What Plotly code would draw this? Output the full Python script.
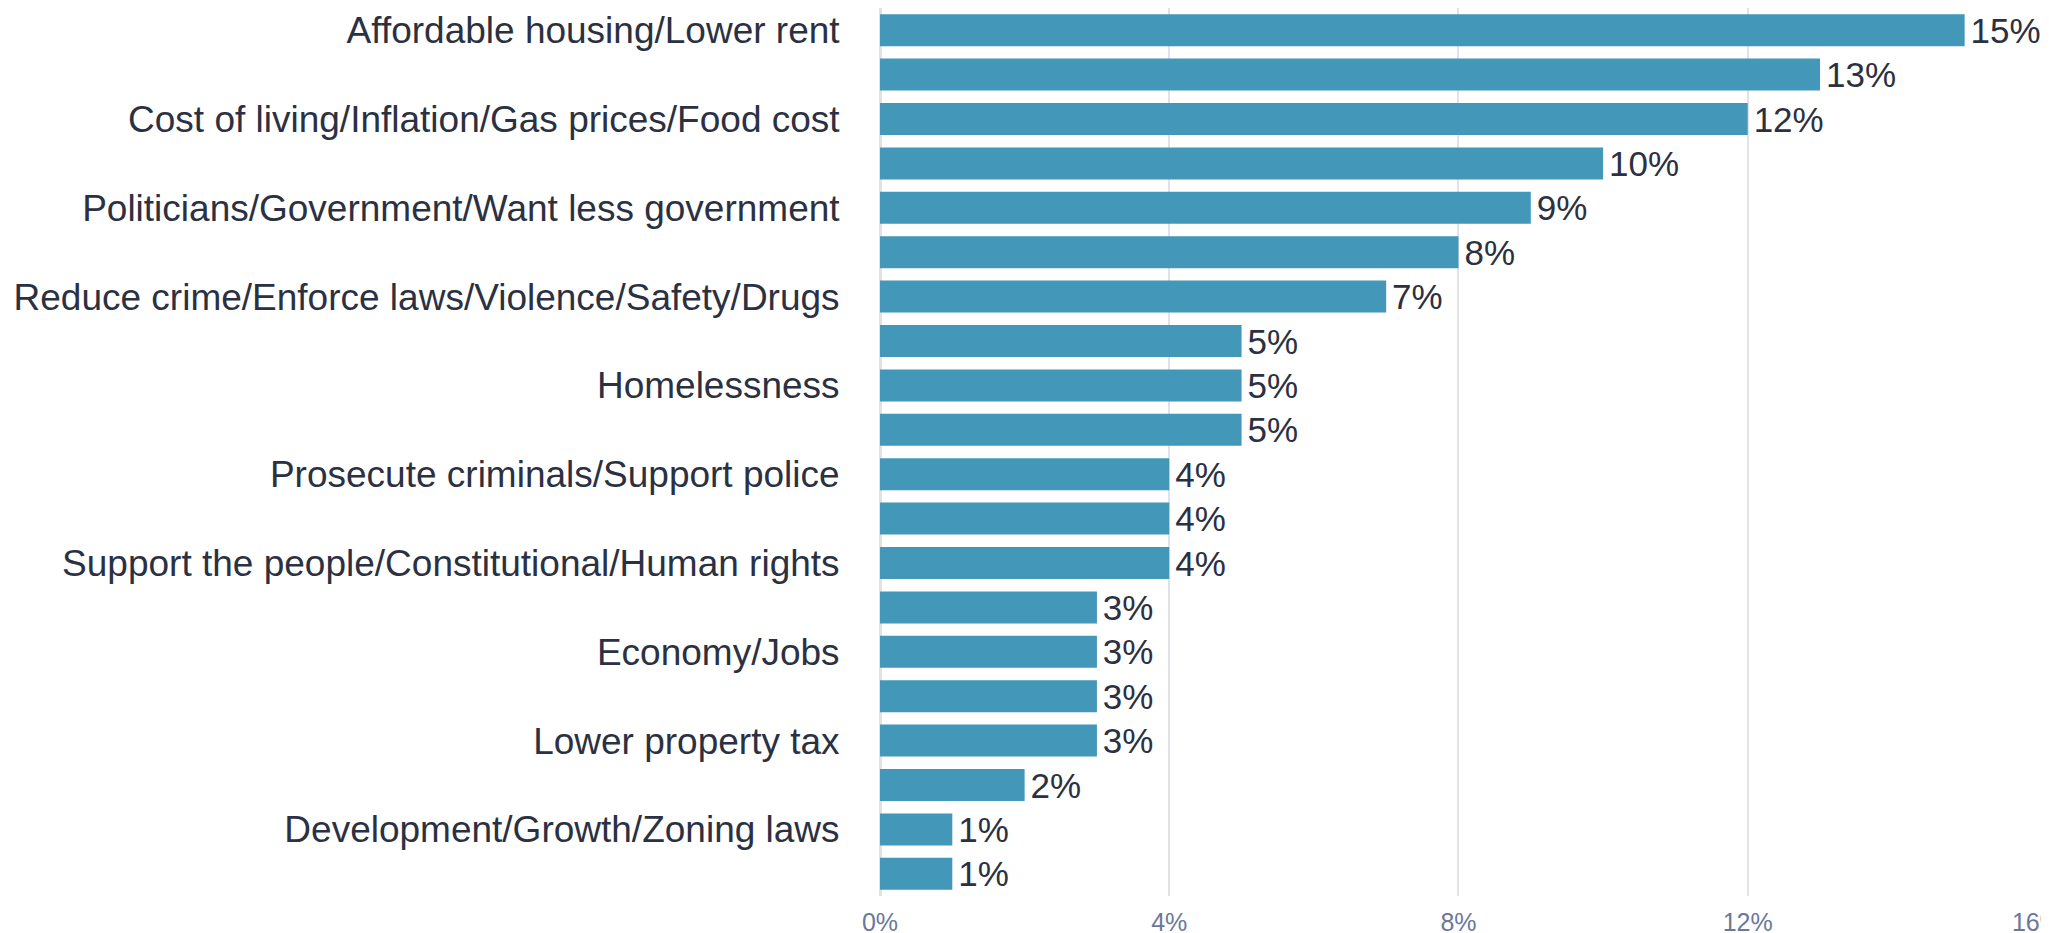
import plotly.graph_objects as go

# Responses, ordered top to bottom. Only every other label is printed in the
# reference; the unprinted ones are given neutral placeholder names.
categories = [
    "Affordable housing/Lower rent",
    "Response 2",
    "Cost of living/Inflation/Gas prices/Food cost",
    "Response 4",
    "Politicians/Government/Want less government",
    "Response 6",
    "Reduce crime/Enforce laws/Violence/Safety/Drugs",
    "Response 8",
    "Homelessness",
    "Response 10",
    "Prosecute criminals/Support police",
    "Response 12",
    "Support the people/Constitutional/Human rights",
    "Response 14",
    "Economy/Jobs",
    "Response 16",
    "Lower property tax",
    "Response 18",
    "Development/Growth/Zoning laws",
    "Response 20",
]
values = [15, 13, 12, 10, 9, 8, 7, 5, 5, 5, 4, 4, 4, 3, 3, 3, 3, 2, 1, 1]
x_ticks = [0, 4, 8, 12, 16]
x_tick_labels = ["0%", "4%", "8%", "12%", "16%"]
value_labels = ["\u200a" + str(v) + "%" for v in values]

BAR = "#4397b8"
TEXT = "#2b3142"
GRID = "#dfe2ea"
TICK = "#6b7899"
FONT = "Liberation Sans, Arial, Helvetica, sans-serif"

fig = go.Figure(
    go.Bar(
        x=values,
        y=categories,
        orientation="h",
        marker=dict(color=BAR, line=dict(width=0)),
        text=value_labels,
        texttemplate="%{text}",
        textposition="outside",
        constraintext="none",
        textfont=dict(family=FONT, size=35, color=TEXT),
        cliponaxis=False,
        hovertemplate="%{y}: %{x}%<extra></extra>",
    )
)

# The page body adds an 8px margin, so the margins are offset to compensate.
fig.update_layout(
    width=2041,
    height=933,
    margin=dict(l=872, r=12, t=0, b=45, autoexpand=False),
    paper_bgcolor="white",
    plot_bgcolor="white",
    bargap=0.28,
    showlegend=False,
    font=dict(family=FONT, color=TEXT),
)

fig.update_xaxes(
    range=[0, 16.0005],
    tickmode="array",
    tickvals=x_ticks,
    ticktext=x_tick_labels,
    showgrid=True,
    gridcolor=GRID,
    gridwidth=2,
    zeroline=True,
    zerolinecolor=GRID,
    zerolinewidth=3,
    showline=False,
    tickfont=dict(family=FONT, size=25, color=TICK),
    ticks="outside",
    ticklen=4,
    tickcolor="rgba(0,0,0,0)",
    automargin=False,
    ticklabeloverflow="allow",
)

fig.update_yaxes(
    type="category",
    categoryorder="array",
    categoryarray=categories,
    autorange="reversed",
    tickmode="linear",
    tick0=0,
    dtick=1,
    ticklabelstep=2,
    ticks="outside",
    ticklen=32,
    tickcolor="rgba(0,0,0,0)",
    showgrid=False,
    showline=False,
    automargin=False,
    tickfont=dict(family=FONT, size=37, color=TEXT),
)

fig.write_html("out.html")
